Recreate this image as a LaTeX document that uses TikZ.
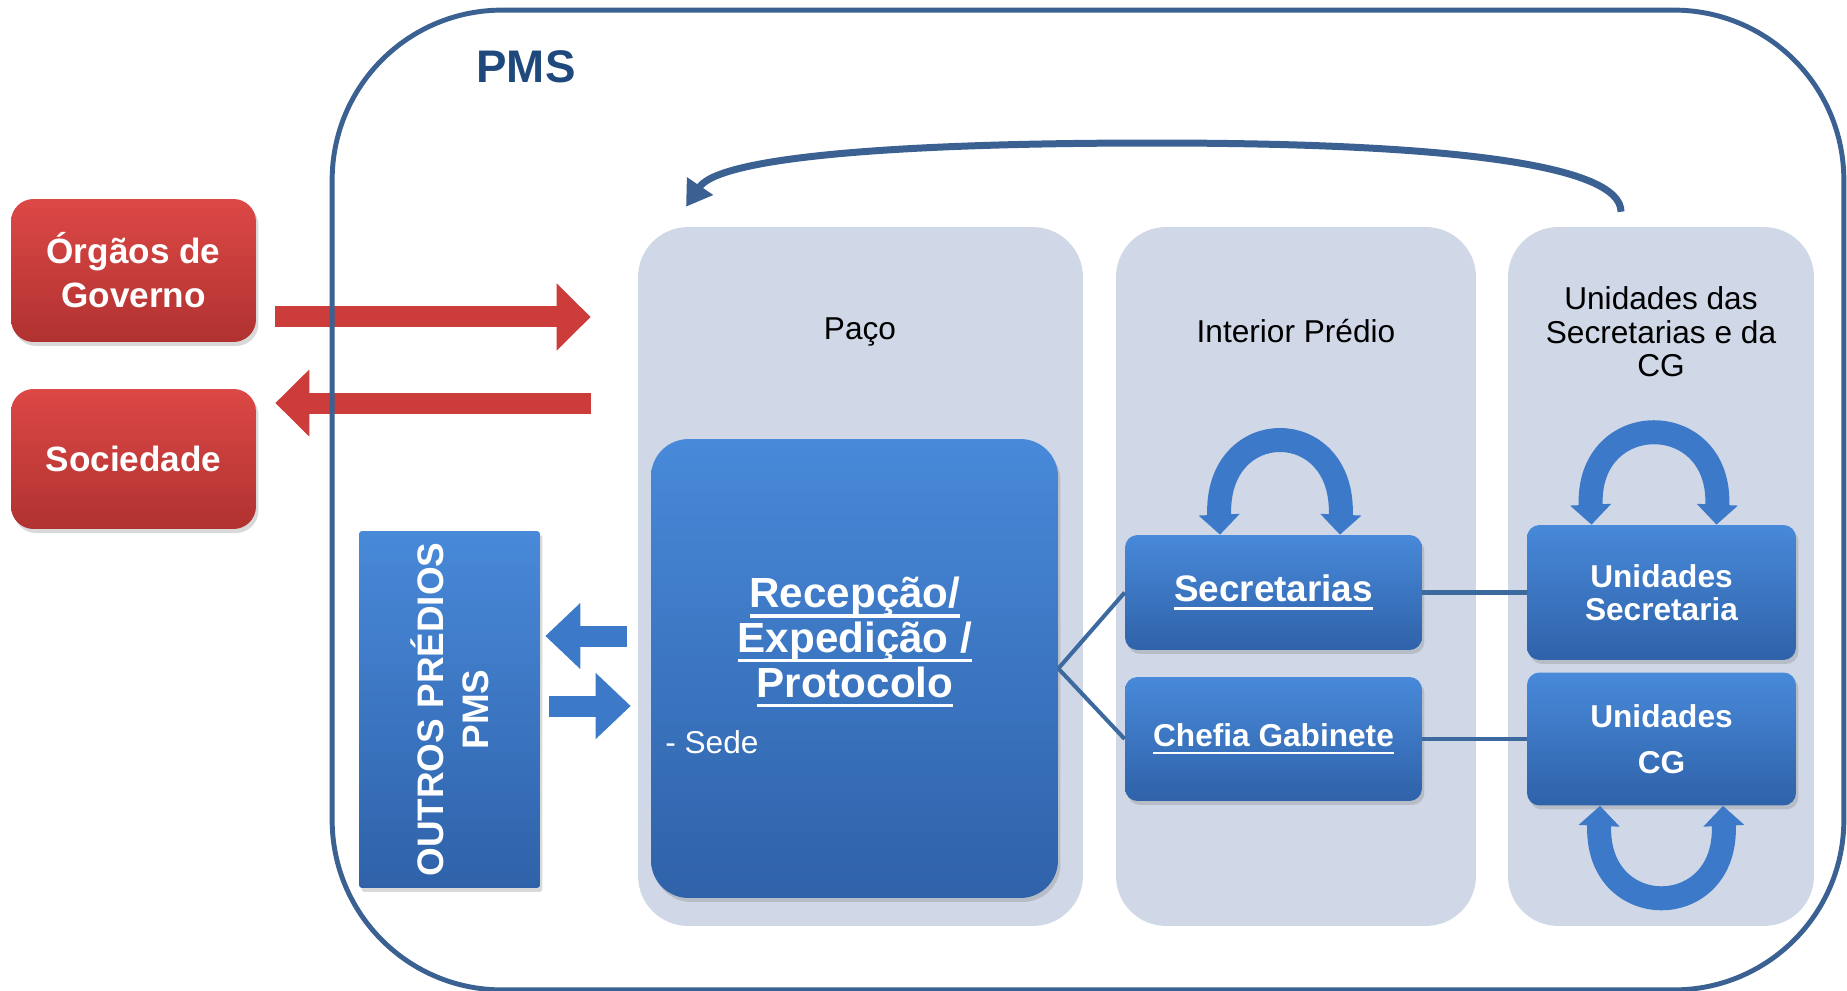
\documentclass[tikz,border=0pt]{standalone}
\usepackage{fontspec}
\setmainfont{Liberation Sans}
\usetikzlibrary{arrows.meta,shadows}

\definecolor{frameblue}{HTML}{3B6192}
\definecolor{pmsblue}{HTML}{1F497D}
\definecolor{panelgrey}{HTML}{D0D8E7}
\definecolor{red1}{HTML}{DC4846}
\definecolor{red2}{HTML}{B03230}
\definecolor{arrowred}{HTML}{CC3C3A}
\definecolor{blue1}{HTML}{4889D9}
\definecolor{blue2}{HTML}{2F62A9}
\definecolor{arrowblue}{HTML}{3C79C8}
\definecolor{linkblue}{HTML}{3C6A9E}

\newsavebox{\ulbox}
\newcommand{\ulnk}[1]{\sbox{\ulbox}{#1}\rlap{\rule[-0.24em]{\wd\ulbox}{0.08em}}\usebox{\ulbox}}

\begin{document}
\begin{tikzpicture}[x=0.02cm,y=-0.02cm]
        \tikzstyle{pmsframe} = [draw=frameblue,line width=2.8pt,rounded corners=3.4cm,minimum width=30.24cm,minimum height=19.6cm]
        \tikzstyle{panel} = [fill=panelgrey,rounded corners=1cm,minimum height=13.98cm]
        \tikzstyle{paneltitle} = [align=center,font=\fontsize{18pt}{19pt}\selectfont]
        \tikzstyle{redbox} = [rounded corners=0.45cm,top color=red1,bottom color=red2,text=white,align=center,minimum width=4.9cm,font=\bfseries\fontsize{20pt}{25pt}\selectfont,drop shadow={opacity=0.3,shadow xshift=0.05cm,shadow yshift=-0.08cm}]
        \tikzstyle{bluebox} = [rounded corners=0.25cm,top color=blue1,bottom color=blue2,text=white,align=center,drop shadow={opacity=0.3,shadow xshift=0.05cm,shadow yshift=-0.08cm}]
        \tikzstyle{link} = [draw=linkblue,line width=2.3pt]
        \tikzstyle{redarrow} = [arrowred,line width=0.42cm,-{Triangle[length=0.68cm,width=1.3cm]}]
        \tikzstyle{bluearrow} = [arrowblue,line width=0.42cm,-{Triangle[length=0.7cm,width=1.28cm]}]
        \tikzstyle{loopboth} = [arrowblue,line width=0.48cm,{Triangle[length=0.4cm,width=0.8cm]}-{Triangle[length=0.4cm,width=0.8cm]}]
        \tikzstyle{toparrow} = [frameblue,line width=0.14cm,-{Triangle[length=0.5cm,width=0.6cm]}]

        \useasboundingbox (0,0) rectangle (1847,991);

        \node[panel,minimum width=8.9cm] (paco) at (860.5,576.5) {};
        \node[panel,minimum width=7.2cm] (interior) at (1296,576.5) {};
        \node[panel,minimum width=6.12cm] (unidades) at (1661,576.5) {};
        \node[paneltitle] (pacotitle) at (860,332) {Paço};
        \node[paneltitle] (interiortitle) at (1296,331) {Interior Prédio};
        \node[paneltitle] (unidadestitle) at (1661,332) {Unidades das\\Secretarias e da\\CG};

        \node[redbox,minimum height=2.86cm] (orgaos) at (133.5,270.5) {Órgãos de\\Governo};
        \node[redbox,minimum height=2.8cm] (sociedade) at (133.5,459) {Sociedade};
        \coordinate (govout) at ([yshift=-0.93cm]orgaos.east);
        \coordinate (socin) at ([yshift=1.12cm]sociedade.east);
        \draw[redarrow,shorten <=0.38cm,shorten >=0.94cm] (govout) -- (govout -| paco.west);
        \draw[redarrow,shorten <=0.94cm,shorten >=0.38cm] (socin -| paco.west) -- (socin);

        \node[pmsframe] (pms) at (1088,500) {};
        \node[font=\bfseries\fontsize{26pt}{30pt}\selectfont,text=pmsblue] (pmstitle) at (526,67) {PMS};

        \node[bluebox,rounded corners=0.75cm,minimum width=8.14cm,minimum height=9.18cm] (recepcao) at (854.5,668.5) {};
        \node[text=white,align=center,font=\bfseries\fontsize{24pt}{25.5pt}\selectfont] (recepcaotitle) at (855,642) {\ulnk{Recepção/}\\\ulnk{Expedição /}\\\ulnk{Protocolo}};
        \node[text=white,anchor=west,inner sep=0pt,font=\fontsize{18pt}{20pt}\selectfont] (sede) at (665,742) {- Sede};

        \node[bluebox,rounded corners=0.06cm,minimum width=3.62cm,minimum height=7.14cm] (outros) at (449.5,709.5) {};
        \node[rotate=90,text=white,align=center,font=\bfseries\fontsize{21pt}{25.5pt}\selectfont] (outrostext) at (outros.center) {OUTROS PRÉDIOS\\PMS};

        \node[bluebox,minimum width=5.94cm,minimum height=2.3cm,font=\bfseries\fontsize{21pt}{24pt}\selectfont] (secretarias) at (1273.5,592.5) {\ulnk{Secretarias}};
        \node[bluebox,minimum width=5.94cm,minimum height=2.48cm,font=\bfseries\fontsize{18pt}{20pt}\selectfont] (chefia) at (1273.5,739) {\ulnk{Chefia Gabinete}};
        \node[bluebox,minimum width=5.38cm,minimum height=2.7cm,font=\bfseries\fontsize{18pt}{18.7pt}\selectfont] (unidsec) at (1661.5,592.5) {Unidades\\Secretaria};
        \node[bluebox,minimum width=5.38cm,minimum height=2.66cm,font=\bfseries\fontsize{18pt}{26pt}\selectfont] (unidcg) at (1661.5,739) {Unidades\\CG};

        \draw[link] (recepcao.east) -- (secretarias.west);
        \draw[link] (recepcao.east) -- (chefia.west);
        \draw[link] (secretarias.east) -- (unidsec.west);
        \draw[link] (chefia.east) -- (unidcg.west);

        \coordinate (recout) at ([yshift=0.65cm]recepcao.west);
        \coordinate (recin) at ([yshift=-0.75cm]recepcao.west);
        \draw[bluearrow,shorten <=0.48cm,shorten >=0.1cm] (recout) -- (recout -| outros.east);
        \draw[bluearrow,shorten <=0.18cm,shorten >=0.4cm] (recin -| outros.east) -- (recin);

        \draw[loopboth] ([xshift=-1.07cm]secretarias.north) .. controls +(-5,-120) and +(5,-120) .. ([xshift=1.33cm]secretarias.north);
        \draw[loopboth] ([xshift=-1.4cm]unidsec.north) .. controls +(-5,-117) and +(5,-117) .. ([xshift=1.1cm]unidsec.north);
        \draw[loopboth] ([xshift=-1.23cm]unidcg.south) .. controls +(-5,117) and +(5,117) .. ([xshift=1.23cm]unidcg.south);

        \coordinate (loopstart) at ([xshift=-0.8cm,yshift=0.3cm]unidades.north);
        \coordinate (looptop) at (1154,143);
        \coordinate (loopend) at ([xshift=-3.49cm,yshift=0.4cm]paco.north);
        \draw[toparrow] (loopstart) .. controls +(0,-47) and +(296,0) .. (looptop) .. controls +(-254,0) and +(34,-50) .. (loopend);
    \end{tikzpicture}
\end{document}
